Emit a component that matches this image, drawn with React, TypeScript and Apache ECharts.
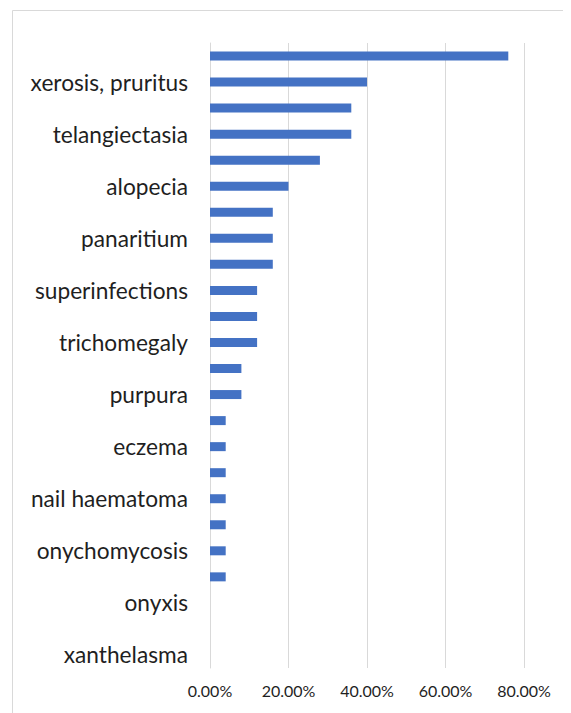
import React, { useEffect, useRef } from "react";
import * as echarts from "echarts";

const categories: string[] = [
  "papulopustular rash",
  "xerosis, pruritus",
  "paronychia",
  "telangiectasia",
  "hair changes",
  "alopecia",
  "fissures",
  "panaritium",
  "hyperpigmentation",
  "superinfections",
  "erythema",
  "trichomegaly",
  "hypertrichosis",
  "purpura",
  "mucositis",
  "eczema",
  "photosensitivity",
  "nail haematoma",
  "urticaria",
  "onychomycosis",
  "pyogenic granuloma",
  "onyxis",
  "nail dystrophy",
  "xanthelasma",
];

const values: number[] = [
  0.76, 0.4, 0.36, 0.36, 0.28, 0.2, 0.16, 0.16, 0.16, 0.12, 0.12, 0.12, 0.08,
  0.08, 0.04, 0.04, 0.04, 0.04, 0.04, 0.04, 0.04, 0, 0, 0,
];

const xTicks = { min: 0, max: 0.8, interval: 0.2 };

export default function App() {
  const ref = useRef<HTMLDivElement>(null);
  useEffect(() => {
    if (!ref.current) return;
    const chart = echarts.init(ref.current, undefined, { renderer: "svg" });
    chart.setOption({
      animation: false,
      grid: { left: 202, right: 47, top: 35, bottom: 45, containLabel: false },
      graphic: [
        {
          type: "rect",
          shape: { x: 4.5, y: 2.5, width: 700, height: 900 },
          style: { fill: "none", stroke: "#d9d9d9", lineWidth: 1 },
          silent: true,
        },
      ],
      xAxis: {
        type: "value",
        min: xTicks.min,
        max: xTicks.max,
        interval: xTicks.interval,
        axisLine: { show: false },
        axisTick: { show: false },
        splitLine: { show: true, lineStyle: { color: "#d9d9d9", width: 1 } },
        axisLabel: {
          formatter: (v: number) => (v * 100).toFixed(2) + "%",
          fontFamily: "Lato",
          fontSize: 16,
          color: "#1f1f1f",
          margin: 14,
        },
      },
      yAxis: {
        type: "category",
        data: categories,
        inverse: true,
        axisLine: { show: true, lineStyle: { color: "#d9d9d9", width: 1 } },
        axisTick: { show: false },
        splitLine: { show: false },
        axisLabel: {
          interval: (index: number) => index % 2 === 1,
          fontFamily: "Lato",
          fontSize: 22.7,
          color: "#1f1f1f",
          margin: 22,
          padding: [0, 0, 2, 0],
        },
      },
      series: [
        {
          type: "bar",
          data: values,
          barWidth: 9,
          itemStyle: { color: "#4472C4" },
        },
      ],
    });
    return () => chart.dispose();
  }, []);
  return <div ref={ref} style={{ width: 563, height: 705 }} />;
}
